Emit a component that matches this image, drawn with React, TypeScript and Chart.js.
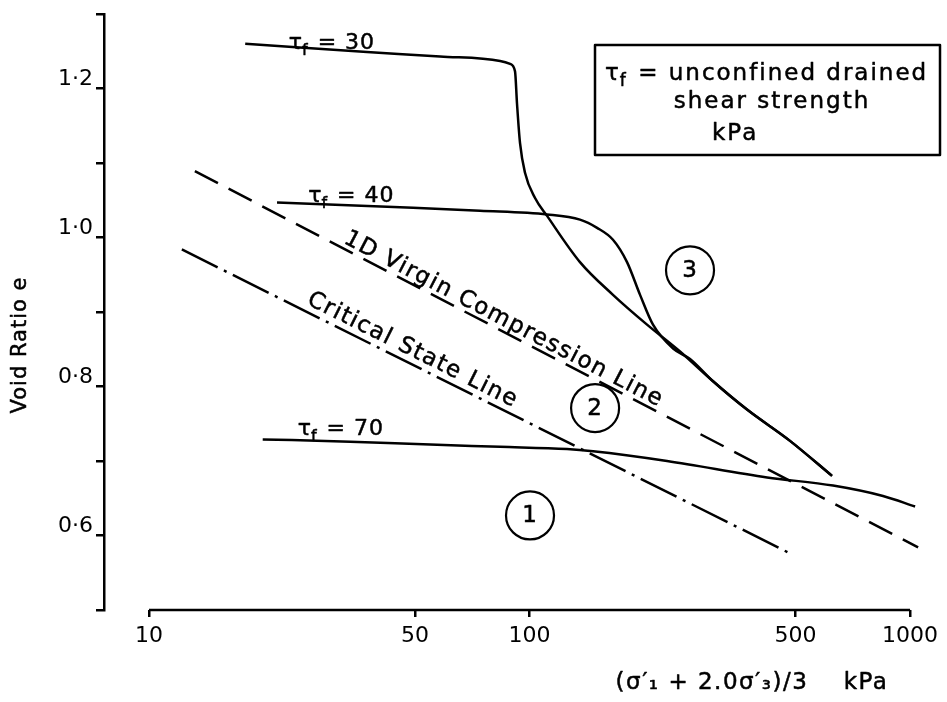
import React, { useEffect, useRef } from 'react';
import { Chart, registerables } from 'chart.js';

Chart.register(...registerables);

const FONT = '"DejaVu Sans", sans-serif';

// axis ticks
const xTickValues = [10, 50, 100, 500, 1000];
const yTickValues = [0.5, 0.6, 0.7, 0.8, 0.9, 1.0, 1.1, 1.2, 1.3];
const yTickLabelled = [0.6, 0.8, 1.0, 1.2];

// tau_f = 30 kPa contour (mean stress p', void ratio e)
const tau30P = [17.9, 24.9, 37.4, 58.2, 83.7, 88.9, 91.6, 92.7, 94.4, 97.3, 103.4, 111.2, 135.7, 165.7, 203.6, 248.6, 303.6, 372.9, 483.6, 623.7];
const tau30E = [1.26, 1.255, 1.249, 1.243, 1.237, 1.233, 1.223, 1.18, 1.127, 1.087, 1.053, 1.029, 0.967, 0.923, 0.883, 0.847, 0.807, 0.769, 0.727, 0.68];

// tau_f = 40 kPa contour
const tau40P = [21.7, 49.4, 74.1, 111.2, 135.7, 150.5, 165.7, 180.4, 195.2, 211.1, 238.4, 264.1, 303.6, 372.9, 483.6, 623.7];
const tau40E = [1.047, 1.04, 1.036, 1.031, 1.024, 1.013, 0.997, 0.967, 0.923, 0.883, 0.851, 0.837, 0.807, 0.769, 0.727, 0.68];

// tau_f = 70 kPa contour
const tau70P = [19.9, 33.8, 54.8, 83.7, 125.5, 146.9, 229.8, 421, 627.6, 849, 1031];
const tau70E = [0.729, 0.726, 0.722, 0.719, 0.716, 0.713, 0.7, 0.678, 0.667, 0.653, 0.639];

// 1D virgin compression line
const vclP = [13.2, 1050];
const vclE = [1.089, 0.584];

// critical state line
const cslP = [12.2, 483.6];
const cslE = [0.984, 0.576];

// numbered regions
const regionLabels = ['1', '2', '3'];
const regionP = [100.3, 148.7, 264.1];
const regionE = [0.627, 0.771, 0.956];

// contour labels
const contourLabels = ['= 30', '= 40', '= 70'];
const contourLabelP = [23.3, 26.2, 24.6];
const contourLabelE = [1.2533, 1.048, 0.7347];

const toPts = (xs: number[], ys: number[]) => xs.map((x, i) => ({ x, y: ys[i] }));

function text(ctx: CanvasRenderingContext2D, s: string, x: number, y: number) {
  ctx.fillText(s, x, y);
  ctx.strokeText(s, x, y);
}

function drawTau(ctx: CanvasRenderingContext2D, x: number, y: number, rest: string, size: number) {
  const big = `${size}px ${FONT}`;
  const small = `${Math.round(size * 0.72)}px ${FONT}`;
  ctx.textAlign = 'left';
  ctx.textBaseline = 'alphabetic';
  ctx.font = big;
  const wT = ctx.measureText('τ').width;
  text(ctx, 'τ', x, y);
  ctx.font = small;
  const wF = ctx.measureText('f').width;
  text(ctx, 'f', x + wT - 1, y + size * 0.28);
  ctx.font = big;
  text(ctx, ' ' + rest, x + wT + wF, y);
}

const annotations = {
  id: 'annotations',
  afterDraw(chart: any) {
    const ctx: CanvasRenderingContext2D = chart.ctx;
    const xs = chart.scales.x;
    const ys = chart.scales.y;
    const area = chart.chartArea;
    ctx.save();
    ctx.fillStyle = '#000';
    ctx.strokeStyle = '#000';
    ctx.lineWidth = 2.5;
    ctx.lineJoin = 'round';
    (ctx as any).letterSpacing = '1px';

    // x axis line between first and last tick
    ctx.beginPath();
    ctx.moveTo(xs.getPixelForValue(xTickValues[0]), area.bottom);
    ctx.lineTo(xs.getPixelForValue(xTickValues[xTickValues.length - 1]), area.bottom);
    ctx.stroke();

    // region circles
    ctx.font = `23px ${FONT}`;
    regionLabels.forEach((lab, i) => {
      const px = xs.getPixelForValue(regionP[i]);
      const py = ys.getPixelForValue(regionE[i]);
      ctx.lineWidth = 2.2;
      ctx.beginPath();
      ctx.arc(px, py, 24, 0, Math.PI * 2);
      ctx.stroke();
      ctx.textAlign = 'center';
      ctx.textBaseline = 'middle';
      ctx.lineWidth = 0.5;
      text(ctx, lab, px, py + 1);
    });

    ctx.lineWidth = 0.5;
    // contour labels
    contourLabels.forEach((lab, i) => {
      drawTau(ctx, xs.getPixelForValue(contourLabelP[i]), ys.getPixelForValue(contourLabelE[i]), lab, 22);
    });

    // labels along lines
    const along = (s: string, p: number[], e: number[], t: number, off: number) => {
      const x1 = xs.getPixelForValue(p[0]);
      const y1 = ys.getPixelForValue(e[0]);
      const x2 = xs.getPixelForValue(p[1]);
      const y2 = ys.getPixelForValue(e[1]);
      const dx = x2 - x1;
      const dy = y2 - y1;
      const len = Math.hypot(dx, dy);
      const nx = dy / len;
      const ny = -dx / len;
      ctx.save();
      ctx.translate(x1 + dx * t + nx * off, y1 + dy * t + ny * off);
      ctx.rotate(Math.atan2(dy, dx));
      ctx.font = `23px ${FONT}`;
      (ctx as any).letterSpacing = '1.5px';
      ctx.textAlign = 'center';
      ctx.textBaseline = 'alphabetic';
      text(ctx, s, 0, 0);
      ctx.restore();
    };
    along('1D Virgin Compression Line', vclP, vclE, 0.42, 5);
    along('Critical State Line', cslP, cslE, 0.37, 7);

    // key box
    ctx.lineWidth = 2.5;
    ctx.strokeRect(595, 45, 345, 110);
    ctx.lineWidth = 0.5;
    (ctx as any).letterSpacing = '2px';
    drawTau(ctx, 605, 80, '= unconfined drained', 23);
    ctx.font = `23px ${FONT}`;
    ctx.textAlign = 'center';
    ctx.textBaseline = 'alphabetic';
    text(ctx, 'shear strength', 772, 108);
    ctx.textAlign = 'left';
    text(ctx, 'kPa', 712, 140);

    // axis titles
    (ctx as any).letterSpacing = '1px';
    ctx.save();
    ctx.translate(21, 345);
    ctx.rotate(-Math.PI / 2);
    ctx.font = `21px ${FONT}`;
    ctx.textAlign = 'center';
    ctx.textBaseline = 'middle';
    text(ctx, 'Void Ratio e', 0, 0);
    ctx.restore();

    ctx.font = `23px ${FONT}`;
    (ctx as any).letterSpacing = '1.5px';
    ctx.textAlign = 'center';
    ctx.textBaseline = 'middle';
    text(ctx, '(σ′₁ + 2.0σ′₃)/3    kPa', 752, 683);

    ctx.restore();
  },
};

export default function App() {
  const ref = useRef<HTMLCanvasElement | null>(null);

  useEffect(() => {
    if (!ref.current) return;
    const solid = { borderColor: '#000', borderWidth: 2.5, pointRadius: 0, fill: false };
    const chart = new Chart(ref.current, {
      type: 'line',
      data: {
        datasets: [
          { label: 'τf = 30', data: toPts(tau30P, tau30E), ...solid, cubicInterpolationMode: 'monotone' },
          { label: 'τf = 40', data: toPts(tau40P, tau40E), ...solid, cubicInterpolationMode: 'monotone' },
          { label: 'τf = 70', data: toPts(tau70P, tau70E), ...solid, cubicInterpolationMode: 'monotone' },
          { label: '1D Virgin Compression Line', data: toPts(vclP, vclE), ...solid, borderDash: [26, 12] },
          { label: 'Critical State Line', data: toPts(cslP, cslE), ...solid, borderDash: [40, 7, 3, 7] },
        ] as any,
      },
      options: {
        animation: false,
        responsive: false,
        devicePixelRatio: 1,
        layout: { padding: { top: 10, right: 27, left: 0, bottom: 0 } },
        plugins: { legend: { display: false }, tooltip: { enabled: false } },
        scales: {
          x: {
            type: 'logarithmic',
            min: 7.617,
            max: 1062,
            afterFit: (s: any) => { s.height = 92; },
            afterBuildTicks: (s: any) => { s.ticks = xTickValues.map((v) => ({ value: v })); },
            border: { display: false },
            grid: { drawOnChartArea: false, drawTicks: true, tickLength: 7, color: '#000', lineWidth: 2.5 },
            ticks: {
              color: '#000',
              padding: 8,
              maxRotation: 0,
              autoSkip: false,
              font: { family: FONT, size: 22, lineHeight: 1 },
              callback: (v: any) => String(v),
            },
          },
          y: {
            type: 'linear',
            min: 0.5,
            max: 1.3,
            afterFit: (s: any) => { s.width = 104; },
            afterBuildTicks: (s: any) => { s.ticks = yTickValues.map((v) => ({ value: v })); },
            border: { display: true, color: '#000', width: 2.5 },
            grid: { drawOnChartArea: false, drawTicks: true, tickLength: 8, color: '#000', lineWidth: 2.5 },
            ticks: {
              color: '#000',
              padding: 3,
              labelOffset: -9,
              autoSkip: false,
              font: { family: FONT, size: 22, lineHeight: 1 },
              callback: (v: any) => {
                const n = Number(v);
                return yTickLabelled.some((t) => Math.abs(t - n) < 1e-6) ? n.toFixed(1).replace('.', '·') : '';
              },
            },
          },
        },
      } as any,
      plugins: [annotations],
    });
    return () => chart.destroy();
  }, []);

  return (
    <div style={{ position: 'fixed', left: 0, top: 0, width: 947, height: 702, background: '#fff' }}>
      <canvas ref={ref} width={947} height={702} style={{ display: 'block', width: 947, height: 702 }} />
    </div>
  );
}
